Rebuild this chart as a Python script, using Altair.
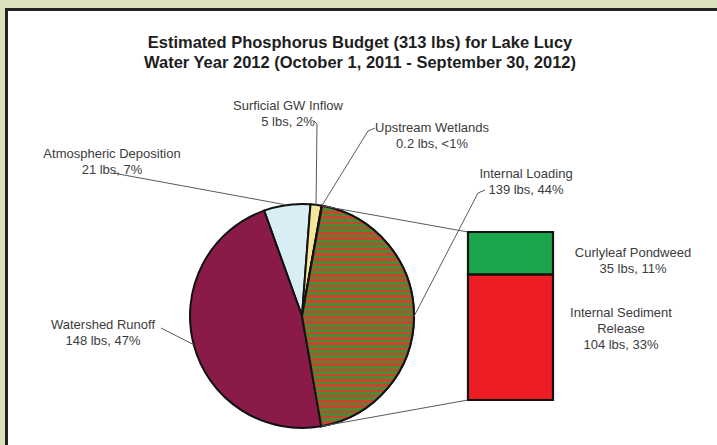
import math
import altair as alt
import pandas as pd

# ------------------------------------------------------------------ data
SOURCES = ["Atmospheric Deposition", "Surficial GW Inflow", "Upstream Wetlands",
           "Internal Loading", "Watershed Runoff"]
LBS = [21, 5, 0.2, 139, 148]

SPLIT_SOURCES = ["Internal Sediment Release", "Curlyleaf Pondweed"]
SPLIT_LBS = [104, 35]

TITLE_LINES = ["Estimated Phosphorus Budget ({total} lbs) for Lake Lucy",
               "Water Year 2012 (October 1, 2011 - September 30, 2012)"]

# ------------------------------------------------------------------ style / layout
SLICE_COLORS = ["#d9edf4", "#f4e79c", "#8fb3d9", "#b5503a", "#8a1a48"]
SPLIT_COLORS = ["#ee1d24", "#1ba54c"]
STRIPE_RED = "#cc4430"
STRIPE_GREEN = "#4a8c34"
N_STRIPES = 42
FRAME_GREEN = "#dde2be"
FRAME_DARK = "#232323"

W, H = 717, 445
CX, CY, R = 302, 316, 112
A0 = math.radians(-19.8)           # where the first slice starts (0 = 12 o'clock)
BAR_X0, BAR_X1, BAR_TOP, BAR_BOTTOM = 468, 553, 232, 400

FONT = "Liberation Sans"
LINE_H = 16
LABEL_POS = {  # centre x, y of first line
    "Atmospheric Deposition": (112, 154),
    "Surficial GW Inflow": (288, 106),
    "Upstream Wetlands": (432, 128),
    "Internal Loading": (526, 174),
    "Watershed Runoff": (103, 325),
    "Curlyleaf Pondweed": (633, 253),
    "Internal Sediment Release": (621, 313),
}
LABEL_WRAP = {"Internal Sediment Release": ["Internal Sediment", "Release"]}
LEADER_END = {  # elbow point, optional hook end
    "Atmospheric Deposition": (113, 173, None, None),
    "Surficial GW Inflow": (317, 124, 314, 121),
    "Upstream Wetlands": (368, 131, 375, 128),
    "Internal Loading": (478, 193, 485, 190),
    "Watershed Runoff": (161, 328, None, None),
}

TOTAL = sum(LBS)
SPLIT_TOTAL = sum(SPLIT_LBS)


def fmt_lbs(v):
    return f"{v:g}"


def fmt_pct(v):
    p = v / TOTAL * 100
    return "<1%" if p < 1 else f"{round(p)}%"


# ------------------------------------------------------------------ tables
pie_df = pd.DataFrame({"source": SOURCES, "lbs": LBS, "order": range(len(SOURCES))})
pie_df["ex"] = [LEADER_END[s][0] for s in SOURCES]
pie_df["ey"] = [LEADER_END[s][1] for s in SOURCES]
pie_df["hx"] = [LEADER_END[s][2] for s in SOURCES]
pie_df["hy"] = [LEADER_END[s][3] for s in SOURCES]

split_df = pd.DataFrame({"part": SPLIT_SOURCES, "lbs": SPLIT_LBS,
                         "order": range(len(SPLIT_SOURCES))})

label_rows = []
for name, v in zip(SOURCES + SPLIT_SOURCES, LBS + SPLIT_LBS):
    cx, y0 = LABEL_POS[name]
    lines = LABEL_WRAP.get(name, [name]) + [f"{fmt_lbs(v)} lbs, {fmt_pct(v)}"]
    for k, line in enumerate(lines):
        label_rows.append({"text": line, "tx": cx, "ty": y0 + k * LINE_H})
label_df = pd.DataFrame(label_rows)

title_df = pd.DataFrame({
    "text": [TITLE_LINES[0].format(total=round(TOTAL)), TITLE_LINES[1]],
    "tx": [360, 360], "ty": [43, 63]})

# ------------------------------------------------------------------ marks
one = alt.Data(values=[{"k": 1}])
green_top = alt.Chart(one).mark_rect(fill=FRAME_GREEN).encode(
    x=alt.value(0), x2=alt.value(W), y=alt.value(0), y2=alt.value(8))
green_left = alt.Chart(one).mark_rect(fill=FRAME_GREEN).encode(
    x=alt.value(0), x2=alt.value(5), y=alt.value(0), y2=alt.value(H))
edge_left = alt.Chart(one).mark_rule(color=FRAME_DARK, strokeWidth=3).encode(
    x=alt.value(6.5), y=alt.value(8), y2=alt.value(H))
edge_top = alt.Chart(one).mark_rule(color=FRAME_DARK, strokeWidth=3).encode(
    x=alt.value(5), x2=alt.value(W), y=alt.value(9.5))

theta_scale = alt.Scale(domain=[0, TOTAL], range=[A0, A0 + 2 * math.pi])

pie_base = alt.Chart(pie_df).transform_window(
    cum="sum(lbs)", sort=[{"field": "order"}], frame=[None, 0]
).transform_calculate(start="datum.cum - datum.lbs")

pie = pie_base.mark_arc(radius=R, stroke="#111111", strokeWidth=2).encode(
    theta=alt.Theta("start:Q", scale=theta_scale, stack=None),
    theta2="cum:Q",
    fill=alt.Fill("source:N", scale=alt.Scale(domain=SOURCES, range=SLICE_COLORS), legend=None),
    x=alt.value(CX), y=alt.value(CY),
)

stops = []
for i in range(N_STRIPES):
    a, b, c = i / N_STRIPES, (i + 0.5) / N_STRIPES, (i + 1) / N_STRIPES
    stops += [{"offset": a, "color": STRIPE_RED}, {"offset": b, "color": STRIPE_RED},
              {"offset": b, "color": STRIPE_GREEN}, {"offset": c, "color": STRIPE_GREEN}]
stripes = {"gradient": "linear", "x1": 0, "y1": 0, "x2": 0, "y2": 1, "stops": stops}

il_overlay = pie_base.transform_filter(
    alt.datum.source == "Internal Loading"
).mark_arc(radius=R, fill=stripes, stroke="#111111", strokeWidth=2).encode(
    theta=alt.Theta("start:Q", scale=theta_scale, stack=None),
    theta2="cum:Q",
    x=alt.value(CX), y=alt.value(CY),
)

ang = f"({A0} + {{v}} / {TOTAL} * 2 * PI)"
geo = pie_base.transform_calculate(
    mid=ang.format(v="(datum.start + datum.lbs / 2)"),
    a_s=ang.format(v="datum.start"),
    a_e=ang.format(v="datum.cum"),
).transform_calculate(
    px=f"{CX} + {R} * sin(datum.mid)", py=f"{CY} - {R} * cos(datum.mid)",
    sx=f"{CX} + {R} * sin(datum.a_s)", sy=f"{CY} - {R} * cos(datum.a_s)",
    qx=f"{CX} + {R} * sin(datum.a_e)", qy=f"{CY} - {R} * cos(datum.a_e)",
    bx=str(BAR_X0), bt=str(BAR_TOP), bb=str(BAR_BOTTOM),
)

leaders = geo.mark_rule(color="#5a5a5a", strokeWidth=1).encode(
    x=alt.X("px:Q", scale=None), y=alt.Y("py:Q", scale=None),
    x2="ex:Q", y2="ey:Q")

hooks = geo.transform_filter("isValid(datum.hx)").mark_rule(
    color="#5a5a5a", strokeWidth=1).encode(
    x=alt.X("ex:Q", scale=None), y=alt.Y("ey:Q", scale=None),
    x2="hx:Q", y2="hy:Q")

il_geo = geo.transform_filter(alt.datum.source == "Internal Loading")
conn_top = il_geo.mark_rule(color="#5a5a5a", strokeWidth=1).encode(
    x=alt.X("sx:Q", scale=None), y=alt.Y("sy:Q", scale=None), x2="bx:Q", y2="bt:Q")
conn_bot = il_geo.mark_rule(color="#5a5a5a", strokeWidth=1).encode(
    x=alt.X("qx:Q", scale=None), y=alt.Y("qy:Q", scale=None), x2="bx:Q", y2="bb:Q")

bar = alt.Chart(split_df).transform_window(
    cum="sum(lbs)", sort=[{"field": "order"}], frame=[None, 0]
).transform_calculate(base="datum.cum - datum.lbs").mark_rect(
    stroke="#111111", strokeWidth=2.2
).encode(
    x=alt.value(BAR_X0), x2=alt.value(BAR_X1),
    y=alt.Y("base:Q", axis=None,
            scale=alt.Scale(domain=[0, SPLIT_TOTAL], range=[BAR_BOTTOM, BAR_TOP],
                            nice=False, zero=False)),
    y2="cum:Q",
    color=alt.Color("part:N", scale=alt.Scale(domain=SPLIT_SOURCES, range=SPLIT_COLORS),
                    legend=None),
)

labels = alt.Chart(label_df).mark_text(
    font=FONT, fontSize=13, color="#3c3c3c", align="center", baseline="middle"
).encode(x=alt.X("tx:Q", scale=None), y=alt.Y("ty:Q", scale=None), text="text:N")

title = alt.Chart(title_df).mark_text(
    font=FONT, fontSize=16.5, fontWeight="bold", color="#1e1e1e",
    align="center", baseline="middle"
).encode(x=alt.X("tx:Q", scale=None), y=alt.Y("ty:Q", scale=None), text="text:N")

chart = alt.layer(
    green_top, green_left, edge_left, edge_top, pie, il_overlay, conn_top, conn_bot,
    leaders, hooks, bar, labels, title
).resolve_scale(
    x="independent", y="independent", fill="independent", color="independent"
).properties(
    width=W, height=H, padding=0, autosize=alt.AutoSizeParams(type="none")
).configure(background="white").configure_view(stroke=None, clip=False)

chart.save("out.html", embed_options={"renderer": "svg", "actions": False})
